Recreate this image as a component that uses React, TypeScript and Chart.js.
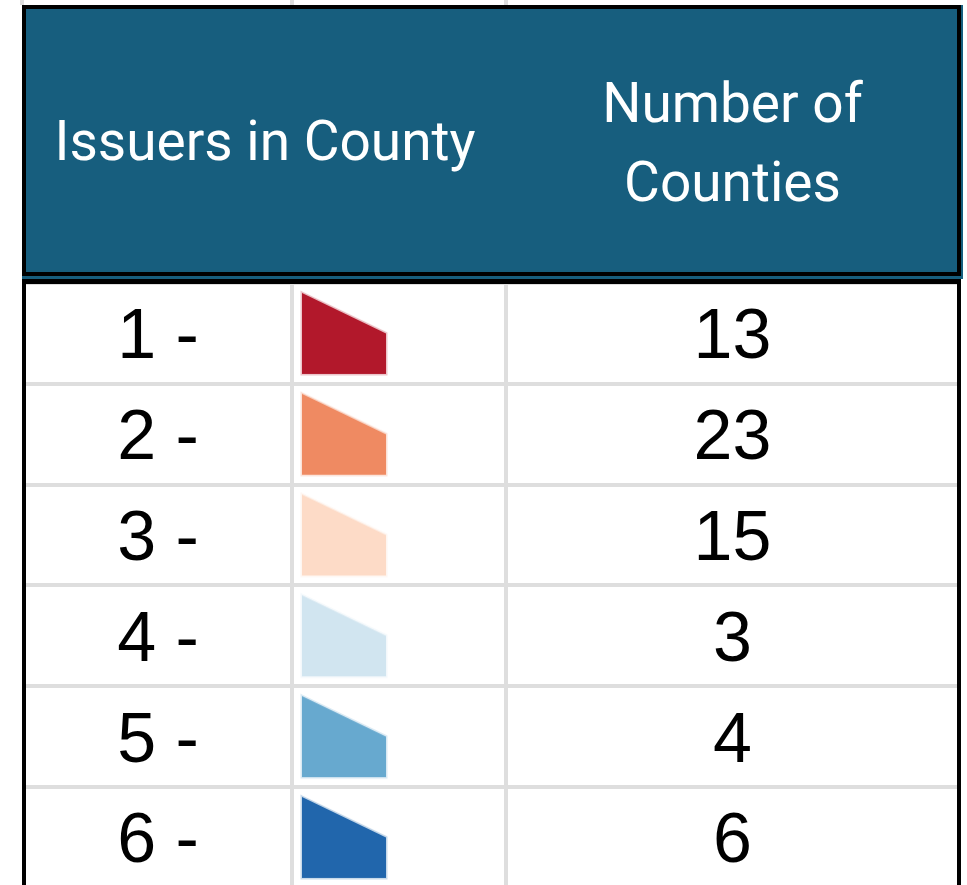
import React, { useEffect, useRef } from "react";
import { Chart, registerables } from "chart.js";

Chart.register(...registerables);

// ---------- data ----------
const headerLeft = "Issuers in County";
const headerRight = ["Number of", "Counties"];
const rowLabels = ["1 -", "2 -", "3 -", "4 -", "5 -", "6 -"];
const counts = [13, 23, 15, 3, 4, 6];
const swatchColors = ["#b2182b", "#ef8a62", "#fddbc7", "#d1e5f0", "#67a9cf", "#2166ac"];

// ---------- layout ----------
const W = 967;
const H = 885;
const TABLE_LEFT = 24;
const TABLE_RIGHT = 959;
const BODY_TOP = 283;
const ROW_H = 100.8;
const X_MAX = TABLE_RIGHT - TABLE_LEFT; // x scale in table units
const COL_EDGES = [268, 482]; // column boundaries in x-scale units
const SWATCH_X = 320;
const SW_W = 84;
const SW_H = 81;

const HEADER_BG = "#175e7e";
const GRID = "#dedede";
const HEADER_FONT = "55px Roboto";
const BODY_FONT = "70px 'Liberation Sans', Arial, sans-serif";

function makeSwatch(color: string): HTMLCanvasElement {
  const m = 3;
  const c = document.createElement("canvas");
  c.width = SW_W + m * 2;
  c.height = SW_H + m * 2;
  const g = c.getContext("2d")!;
  const path = () => {
    g.beginPath();
    g.moveTo(m, m);
    g.lineTo(m + SW_W, m + SW_H * 0.5);
    g.lineTo(m + SW_W, m + SW_H);
    g.lineTo(m, m + SW_H);
    g.closePath();
  };
  path();
  g.globalAlpha = 0.25;
  g.strokeStyle = color;
  g.lineWidth = 3;
  g.stroke();
  g.globalAlpha = 1;
  path();
  g.fillStyle = color;
  g.fill();
  return c;
}

const tablePlugin = {
  id: "tableDecor",
  beforeDraw(chart: any) {
    const { ctx } = chart;
    const xs = chart.scales.x;
    ctx.save();
    ctx.fillStyle = "#ffffff";
    ctx.fillRect(0, 0, W, H);
    ctx.fillStyle = GRID;
    ctx.fillRect(TABLE_LEFT - 4, 0, 4, 5);
    COL_EDGES.forEach((v) => {
      const px = xs.getPixelForValue(v);
      ctx.fillRect(px - 2, 0, 4, 5);
    });
    ctx.fillStyle = HEADER_BG;
    ctx.fillRect(TABLE_LEFT - 2, 5, TABLE_RIGHT - TABLE_LEFT + 6, BODY_TOP - 4 - 5);
    ctx.strokeStyle = "#000000";
    ctx.lineWidth = 4;
    ctx.strokeRect(TABLE_LEFT, 7, TABLE_RIGHT - TABLE_LEFT, 267);
    ctx.fillStyle = "#ffffff";
    ctx.font = HEADER_FONT;
    ctx.textAlign = "center";
    ctx.textBaseline = "alphabetic";
    const leftCenter = (TABLE_LEFT + xs.getPixelForValue(COL_EDGES[1])) / 2;
    const rightCenter = (xs.getPixelForValue(COL_EDGES[1]) + TABLE_RIGHT) / 2;
    ctx.fillText(headerLeft, leftCenter, 160);
    ctx.fillText(headerRight[0], rightCenter, 122);
    ctx.fillText(headerRight[1], rightCenter, 201);
    ctx.restore();
  },
  afterDraw(chart: any) {
    const { ctx } = chart;
    const xs = chart.scales.x;
    const ys = chart.scales.y;
    ctx.save();
    ctx.fillStyle = "#000000";
    ctx.font = BODY_FONT;
    ctx.textAlign = "center";
    ctx.textBaseline = "alphabetic";
    const c1 = (TABLE_LEFT + xs.getPixelForValue(COL_EDGES[0])) / 2;
    const c3 = (xs.getPixelForValue(COL_EDGES[1]) + TABLE_RIGHT) / 2;
    rowLabels.forEach((lab, i) => {
      const y = ys.getPixelForValue(i + 1) + 25;
      ctx.fillText(lab, c1, y);
      ctx.fillText(String(counts[i]), c3, y);
    });
    ctx.fillStyle = "#000000";
    ctx.fillRect(TABLE_LEFT - 2, BODY_TOP - 4, TABLE_RIGHT - TABLE_LEFT + 4, 5);
    ctx.fillRect(TABLE_LEFT - 2, BODY_TOP - 4, 4, H);
    ctx.fillRect(TABLE_RIGHT - 2, BODY_TOP - 4, 4, H);
    ctx.restore();
  },
};

export default function App() {
  const ref = useRef<HTMLCanvasElement>(null);
  useEffect(() => {
    const canvas = ref.current;
    if (!canvas) return;
    const swatches = swatchColors.map((c) => makeSwatch(c));
    const chart = new Chart(canvas, {
      type: "scatter",
      data: {
        datasets: [
          {
            data: rowLabels.map((_, i) => ({ x: SWATCH_X, y: i + 1 })),
            pointStyle: swatches as any,
            pointRadius: 40,
            pointHoverRadius: 40,
            backgroundColor: swatchColors,
            borderWidth: 0,
          },
        ],
      },
      options: {
        animation: false,
        responsive: false,
        events: [],
        layout: {
          autoPadding: false,
          padding: { top: BODY_TOP, left: TABLE_LEFT, right: W - TABLE_RIGHT, bottom: 0 },
        },
        plugins: { legend: { display: false }, tooltip: { enabled: false }, title: { display: false } },
        scales: {
          x: {
            type: "linear",
            min: 0,
            max: X_MAX,
            afterBuildTicks: (s: any) => {
              s.ticks = COL_EDGES.map((v) => ({ value: v }));
            },
            afterFit: (s: any) => {
              s.height = 0;
            },
            ticks: { display: false },
            grid: { color: GRID, lineWidth: 4, drawTicks: false },
            border: { display: false },
          },
          y: {
            type: "linear",
            reverse: true,
            min: 0.5,
            max: 0.5 + (H - BODY_TOP) / ROW_H,
            afterBuildTicks: (s: any) => {
              s.ticks = rowLabels.map((_, i) => ({ value: i + 1 }));
            },
            afterFit: (s: any) => {
              s.width = 0;
            },
            ticks: { display: false },
            grid: { color: GRID, lineWidth: 4, drawTicks: false, offset: true },
            border: { display: false },
          },
        },
      },
      plugins: [tablePlugin],
    });
    return () => chart.destroy();
  }, []);
  return (
    <div style={{ position: "fixed", left: 0, top: 0, width: W, height: H, background: "#fff" }}>
      <canvas ref={ref} width={W} height={H} style={{ display: "block", width: W, height: H }} />
    </div>
  );
}
